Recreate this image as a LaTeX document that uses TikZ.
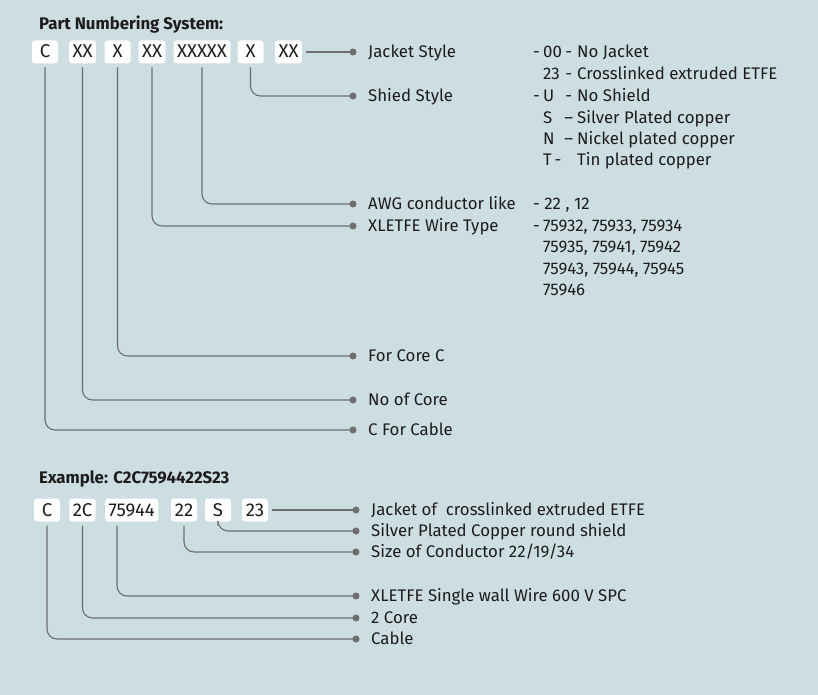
\documentclass[tikz,border=0pt]{standalone}
\usepackage{fontspec}
\setmainfont{Fira Sans}
\usetikzlibrary{arrows.meta}

\definecolor{panel}{HTML}{CCDEE1}
\definecolor{wire}{HTML}{6E6E6E}
\definecolor{ink}{HTML}{1E1B1C}

% dash, code, separator, meaning
\newcommand{\partrow}[4]{\makebox[10pt][l]{#1}\makebox[17pt][l]{#2}\makebox[17pt][c]{#3}#4}

\begin{document}
\begin{tikzpicture}[x=1pt, y=-1pt, text=ink,
  font=\fontsize{16.8}{20}\selectfont,
  partbox/.style={fill=white, rounded corners=3pt, inner xsep=3.5pt,
    inner ysep=5.5pt, minimum width=26pt, text height=12pt,
    text depth=0pt, outer sep=4pt, font=\fontsize{18.5}{20}\selectfont},
  lbl/.style={anchor=west, inner sep=0pt, text height=11.6pt, text depth=0pt},
  conn/.style={draw=wire, line width=1.1pt, rounded corners=10pt,
    -{Circle[length=7pt]}},
  ]

  \fill [panel] (0,0) rectangle (818,695) ;
  \useasboundingbox (0,0) rectangle (818,695) ;

  % part numbering system
  \node[lbl, font=\fontsize{16.8}{20}\selectfont\bfseries] (title) at (39, 24) {Part Numbering System:} ;

  \node[partbox] (pC)     at (45,   52) {C}     ;
  \node[partbox] (pCore)  at (82.5, 52) {XX}    ;
  \node[partbox] (pX)     at (117.5,52) {X}     ;
  \node[partbox] (pType)  at (152,  52) {XX}    ;
  \node[partbox] (pAwg)   at (202,  52) {XXXXX} ;
  \node[partbox] (pShd)   at (250.5,52) {X}     ;
  \node[partbox] (pJkt)   at (288.5,52) {XX}    ;

  \node[lbl] (ljacket) at (368,  52) {Jacket Style}       ;
  \node[lbl] (lshield) at (368,  96) {Shied Style}        ;
  \node[lbl] (lawg)    at (368, 204) {AWG conductor like} ;
  \node[lbl] (ltype)   at (368, 226) {XLETFE Wire Type}   ;
  \node[lbl] (lcorec)  at (368, 356) {For Core C}         ;
  \node[lbl] (lcores)  at (368, 400) {No of Core}         ;
  \node[lbl] (lcable)  at (368, 430) {C For Cable}        ;

  \node[lbl] (j1) at (533,  52) {\partrow{-}{00}{-}{No Jacket}}                 ;
  \node[lbl] (j2) at (533,  74) {\partrow{}{23}{-}{Crosslinked extruded ETFE}}  ;
  \node[lbl] (s1) at (533,  96) {\partrow{-}{U}{-}{No Shield}}                  ;
  \node[lbl] (s2) at (533, 118) {\partrow{}{S}{--}{Silver Plated copper}}       ;
  \node[lbl] (s3) at (533, 139) {\partrow{}{N}{--}{Nickel plated copper}}       ;
  \node[lbl] (s4) at (533, 160) {\partrow{}{T\,-}{}{Tin plated copper}}         ;
  \node[lbl] (a1) at (533, 204) {- 22 , 12}                                     ;
  \node[lbl] (t1) at (533, 226) {\makebox[10pt][l]{-}75932, 75933, 75934}       ;
  \node[lbl] (t2) at (543, 247) {75935, 75941, 75942}                           ;
  \node[lbl] (t3) at (543, 269) {75943, 75944, 75945}                           ;
  \node[lbl] (t4) at (543, 290) {75946}                                         ;

  \draw[conn] (pJkt.east)  --  ([xshift=-11.5pt]ljacket.west) ;
  \draw[conn] (pShd.south) |-  ([xshift=-11.5pt]lshield.west) ;
  \draw[conn] (pAwg.south) |-  ([xshift=-11.5pt]lawg.west)    ;
  \draw[conn] (pType.south) |- ([xshift=-11.5pt]ltype.west)   ;
  \draw[conn] (pX.south)   |-  ([xshift=-11.5pt]lcorec.west)  ;
  \draw[conn] (pCore.south) |- ([xshift=-11.5pt]lcores.west)  ;
  \draw[conn] (pC.south)   |-  ([xshift=-11.5pt]lcable.west)  ;

  % example
  \node[lbl, font=\fontsize{16.8}{20}\selectfont\bfseries] (extitle) at (39, 478) {Example: C2C7594422S23} ;

  \node[partbox] (eC)     at (47,   510) {C}     ;
  \node[partbox] (eCore)  at (82.5, 510) {2C}    ;
  \node[partbox] (eType)  at (131.7,510) {75944} ;
  \node[partbox] (eAwg)   at (184,  510) {22}    ;
  \node[partbox] (eShd)   at (218,  510) {S}     ;
  \node[partbox] (eJkt)   at (255,  510) {23}    ;

  \node[lbl] (ejacket) at (371, 510) {Jacket of \ crosslinked extruded ETFE} ;
  \node[lbl] (eshield) at (371, 531) {Silver Plated Copper round shield}     ;
  \node[lbl] (esize)   at (371, 552) {Size of Conductor 22/19/34}            ;
  \node[lbl] (ewire)   at (371, 596) {XLETFE Single wall Wire 600 V SPC}     ;
  \node[lbl] (ecores)  at (371, 618) {2 Core}                                ;
  \node[lbl] (ecable)  at (371, 639) {Cable}                                 ;

  \draw[conn] (eJkt.east)  --  ([xshift=-11.5pt]ejacket.west) ;
  \draw[conn] (eShd.south) |-  ([xshift=-11.5pt]eshield.west) ;
  \draw[conn] (eAwg.south) |-  ([xshift=-11.5pt]esize.west)   ;
  \draw[conn] ([xshift=-14.7pt]eType.south) |- ([xshift=-11.5pt]ewire.west) ;
  \draw[conn] (eCore.south) |- ([xshift=-11.5pt]ecores.west)  ;
  \draw[conn] (eC.south)   |-  ([xshift=-11.5pt]ecable.west)  ;

\end{tikzpicture}
\end{document}
